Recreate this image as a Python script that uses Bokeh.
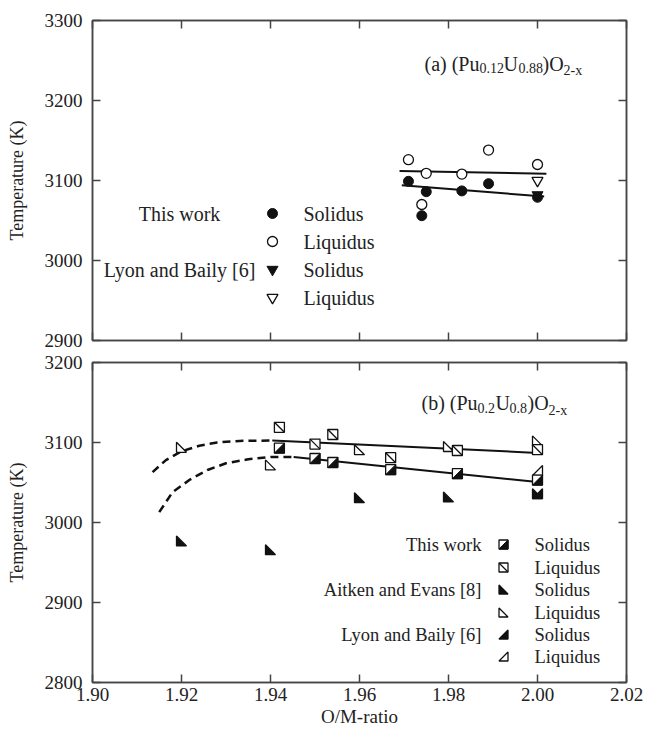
from bokeh.plotting import figure
from bokeh.layouts import column
from bokeh.models import (FixedTicker, LinearAxis, CustomJSTickFormatter,
                          NumeralTickFormatter, Range1d)
from bokeh.core.properties import value
from bokeh.embed import file_html
from bokeh.resources import INLINE

FONT = "Liberation Serif"
INK = "#111111"
AXC = "#444444"

# ---------------- data ----------------
om_ticks = [1.90, 1.92, 1.94, 1.96, 1.98, 2.00, 2.02]
a_T_ticks = [2900, 3000, 3100, 3200, 3300]
b_T_ticks = [2800, 2900, 3000, 3100, 3200]

# panel (a) (Pu0.12U0.88)O2-x
a_this_sol_x = [1.971, 1.975, 1.974, 1.983, 1.989, 2.000]
a_this_sol_T = [3099, 3086, 3056, 3087, 3096, 3079]
a_this_liq_x = [1.971, 1.975, 1.974, 1.983, 1.989, 2.000]
a_this_liq_T = [3126, 3109, 3070, 3108, 3138, 3120]
a_lyon_sol_x = [2.000]
a_lyon_sol_T = [3082]
a_lyon_liq_x = [2.000]
a_lyon_liq_T = [3100]
a_fit_liq_x = [1.969, 2.002]
a_fit_liq_T = [3112, 3108.5]
a_fit_sol_x = [1.9695, 2.0015]
a_fit_sol_T = [3094, 3080]

# panel (b) (Pu0.2U0.8)O2-x
b_this_sol_x = [1.942, 1.950, 1.954, 1.967, 1.982, 2.000]
b_this_sol_T = [3093, 3080, 3075, 3066, 3061, 3053]
b_this_liq_x = [1.942, 1.950, 1.954, 1.967, 1.982, 2.000]
b_this_liq_T = [3119, 3098, 3110, 3081, 3090, 3091]
b_aitken_sol_x = [1.92, 1.94, 1.96, 1.98, 2.00]
b_aitken_sol_T = [2977, 2966, 3031, 3032, 3036]
b_aitken_liq_x = [1.92, 1.94, 1.96, 1.98, 2.00]
b_aitken_liq_T = [3094, 3072, 3091, 3095, 3102]
b_lyon_sol_x = [2.00]
b_lyon_sol_T = [3036]
b_lyon_liq_x = [2.00]
b_lyon_liq_T = [3065]
b_fit_liq_x = [1.9404, 2.000]
b_fit_liq_T = [3102.5, 3087]
b_fit_sol_x = [1.9452, 2.000]
b_fit_sol_T = [3082, 3050.5]
b_dash_liq_x = [1.9135, 1.9165, 1.920, 1.924, 1.928, 1.933, 1.9404]
b_dash_liq_T = [3063, 3078, 3089, 3096, 3100, 3102, 3102.5]
b_dash_sol_x = [1.9150, 1.918, 1.922, 1.926, 1.930, 1.935, 1.940, 1.9452]
b_dash_sol_T = [3013, 3038, 3054, 3066, 3074, 3079, 3082, 3082]

legend_a_groups = ["This work", "Lyon and Baily [6]"]
legend_b_groups = ["This work", "Aitken and Evans [8]", "Lyon and Baily [6]"]
legend_kinds = ["Solidus", "Liquidus"]

# ---------------- geometry ----------------
W = 645
LB, RB = 92, 19
FH = 320
FW = W - LB - RB
PXX = FW / 0.12
PXY = FH / 400.0


def px_x(px):
    return 1.90 + (px - LB) / PXX


def py_a(py):
    return 3300 - (py - 20) / PXY


def py_b(py):
    return 3200 - (py - 362) / PXY


blank = CustomJSTickFormatter(code="return ''")


def style_axis(ax, ticks, fmt=None, show=True):
    ax.ticker = FixedTicker(ticks=ticks)
    ax.major_tick_in = 8
    ax.major_tick_out = 0
    ax.minor_tick_line_color = None
    ax.axis_line_color = AXC
    ax.axis_line_width = 1.5
    ax.major_tick_line_color = AXC
    ax.major_tick_line_width = 1.5
    if show:
        ax.formatter = fmt
        ax.major_label_text_font = FONT
        ax.major_label_text_font_size = "19px"
        ax.major_label_text_color = "#222222"
    else:
        ax.formatter = CustomJSTickFormatter(code="return ''")
        ax.major_label_text_font_size = "1px"
        ax.major_label_standoff = 0


def make_fig(height, yr, yticks, top_b, bot_b, show_x):
    p = figure(width=W, height=height, x_range=Range1d(1.90, 2.02),
               y_range=Range1d(*yr), output_backend="svg",
               toolbar_location=None, min_border_left=LB,
               min_border_right=RB, min_border_top=top_b,
               min_border_bottom=bot_b)
    p.xgrid.visible = False
    p.ygrid.visible = False
    p.outline_line_color = AXC
    p.outline_line_width = 1.5
    p.background_fill_color = "white"
    p.border_fill_color = "white"
    style_axis(p.yaxis[0], yticks, NumeralTickFormatter(format="0"))
    p.yaxis[0].major_label_standoff = 10
    p.yaxis[0].axis_label = "Temperature (K)"
    p.yaxis[0].axis_label_text_font = FONT
    p.yaxis[0].axis_label_text_font_size = "18px"
    p.yaxis[0].axis_label_text_font_style = "normal"
    p.yaxis[0].axis_label_text_color = "#222222"
    p.yaxis[0].axis_label_standoff = 15
    if show_x:
        style_axis(p.xaxis[0], om_ticks, NumeralTickFormatter(format="0.00"))
        p.xaxis[0].major_label_standoff = 5
        p.xaxis[0].axis_label = "O/M-ratio"
        p.xaxis[0].axis_label_text_font = FONT
        p.xaxis[0].axis_label_text_font_size = "19px"
        p.xaxis[0].axis_label_text_font_style = "normal"
        p.xaxis[0].axis_label_text_color = "#222222"
        p.xaxis[0].axis_label_standoff = 2
    else:
        style_axis(p.xaxis[0], om_ticks, show=False)
    ra = LinearAxis()
    style_axis(ra, yticks, show=False)
    p.add_layout(ra, "right")
    ta = LinearAxis()
    style_axis(ta, om_ticks, show=False)
    p.add_layout(ta, "above")
    return p


def tri(xs, ys, kind, s):
    dx = s / 2 / PXX
    dy = s / 2 / PXY
    X, Y = [], []
    for x, y in zip(xs, ys):
        if kind == "ll":
            X.append([x - dx, x - dx, x + dx])
        else:
            X.append([x + dx, x + dx, x - dx])
        Y.append([y + dy, y - dy, y - dy])
    return X, Y


def half_square(p, xs, ys, s=10):
    p.scatter(xs, ys, marker="square", size=s, fill_color="white",
              line_color=INK, line_width=1.3)
    X, Y = tri(xs, ys, "lr", s)
    p.patches(X, Y, fill_color=INK, line_color=INK, line_width=1)


def slash_square(p, xs, ys, s=10):
    p.scatter(xs, ys, marker="square", size=s, fill_color="white",
              line_color=INK, line_width=1.3)
    dx = s / 2 / PXX
    dy = s / 2 / PXY
    p.segment([x - dx for x in xs], [y + dy for y in ys],
              [x + dx for x in xs], [y - dy for y in ys],
              line_color=INK, line_width=1.3)


def triangle(p, xs, ys, kind, filled, s=10):
    X, Y = tri(xs, ys, kind, s)
    p.patches(X, Y, fill_color=INK if filled else "white",
              line_color=INK, line_width=1.3)


def txt(p, x, y, t, size, align="left", base="middle"):
    p.text(x=[x], y=[y], text=[t], text_font=value(FONT),
           text_font_size=value(size), text_align=align,
           text_baseline=base, text_color="#222222")


# ---------------- panel (a) ----------------
pa = make_fig(351, (2900, 3300), a_T_ticks, 20, 11, False)
pa.line(a_fit_liq_x, a_fit_liq_T, line_color=INK, line_width=2)
pa.line(a_fit_sol_x, a_fit_sol_T, line_color=INK, line_width=2)
pa.scatter(a_this_liq_x, a_this_liq_T, marker="circle", size=10,
           fill_color="white", line_color=INK, line_width=1.3)
pa.scatter(a_this_sol_x, a_this_sol_T, marker="circle", size=10,
           fill_color=INK, line_color=INK)
pa.scatter(a_lyon_liq_x, a_lyon_liq_T, marker="inverted_triangle", size=11,
           fill_color="white", line_color=INK, line_width=1.3)
pa.scatter(a_lyon_sol_x, a_lyon_sol_T, marker="inverted_triangle", size=11,
           fill_color=INK, line_color=INK)

# legend (a)
la_rows = [py_a(213), py_a(241), py_a(269), py_a(297)]
lmx = px_x(272)
pa.scatter([lmx], [la_rows[0]], marker="circle", size=10, fill_color=INK, line_color=INK)
pa.scatter([lmx], [la_rows[1]], marker="circle", size=10, fill_color="white",
           line_color=INK, line_width=1.3)
pa.scatter([lmx], [la_rows[2]], marker="inverted_triangle", size=11,
           fill_color=INK, line_color=INK)
pa.scatter([lmx], [la_rows[3]], marker="inverted_triangle", size=11,
           fill_color="white", line_color=INK, line_width=1.3)
for i, r in enumerate(la_rows):
    txt(pa, px_x(303), r, legend_kinds[i % 2], "20px")
txt(pa, px_x(179), la_rows[0], legend_a_groups[0], "20px", "center")
txt(pa, px_x(179), la_rows[2], legend_a_groups[1], "20px", "center")

# title (a)
a_main = [("(a) (Pu", 424), ("U", 503), (")O", 542)]
a_sub = [("0.12", 479), ("0.88", 518), ("2-x", 563)]
for t, x in a_main:
    txt(pa, px_x(x), py_a(63), t, "20px", base="alphabetic")
for t, x in a_sub:
    txt(pa, px_x(x), py_a(62), t, "14px", base="top")

# ---------------- panel (b) ----------------
pb = make_fig(384, (2800, 3200), b_T_ticks, 11, 53, True)
pb.line(b_dash_liq_x, b_dash_liq_T, line_color=INK, line_width=2.5, line_dash="8 5")
pb.line(b_dash_sol_x, b_dash_sol_T, line_color=INK, line_width=2.5, line_dash="8 5")
pb.line(b_fit_liq_x, b_fit_liq_T, line_color=INK, line_width=2)
pb.line(b_fit_sol_x, b_fit_sol_T, line_color=INK, line_width=2)
triangle(pb, b_aitken_liq_x, b_aitken_liq_T, "ll", False)
triangle(pb, b_lyon_liq_x, b_lyon_liq_T, "lr", False)
triangle(pb, b_aitken_sol_x, b_aitken_sol_T, "ll", True)
triangle(pb, b_lyon_sol_x, b_lyon_sol_T, "lr", True)
slash_square(pb, b_this_liq_x, b_this_liq_T)
half_square(pb, b_this_sol_x, b_this_sol_T)

# legend (b)
lb_rows = [py_b(544), py_b(567), py_b(589), py_b(612), py_b(634), py_b(656)]
bmx = px_x(503)
half_square(pb, [bmx], [lb_rows[0]], 9)
slash_square(pb, [bmx], [lb_rows[1]], 9)
triangle(pb, [bmx], [lb_rows[2]], "ll", True, 9)
triangle(pb, [bmx], [lb_rows[3]], "ll", False, 9)
triangle(pb, [bmx], [lb_rows[4]], "lr", True, 9)
triangle(pb, [bmx], [lb_rows[5]], "lr", False, 9)
for i, r in enumerate(lb_rows):
    txt(pb, px_x(534), r, legend_kinds[i % 2], "18.5px")
for i, g in enumerate(legend_b_groups):
    txt(pb, px_x(481), lb_rows[2 * i], g, "18.5px", "right")

# title (b)
b_main = [("(b) (Pu", 421), ("U", 495), (")O", 527)]
b_sub = [("0.2", 477), ("0.8", 509), ("2-x", 548)]
for t, x in b_main:
    txt(pb, px_x(x), py_b(402), t, "20px", base="alphabetic")
for t, x in b_sub:
    txt(pb, px_x(x), py_b(402), t, "14px", base="top")

layout = column(pa, pb, spacing=0)
open("out.html", "w").write(file_html(layout, INLINE))
